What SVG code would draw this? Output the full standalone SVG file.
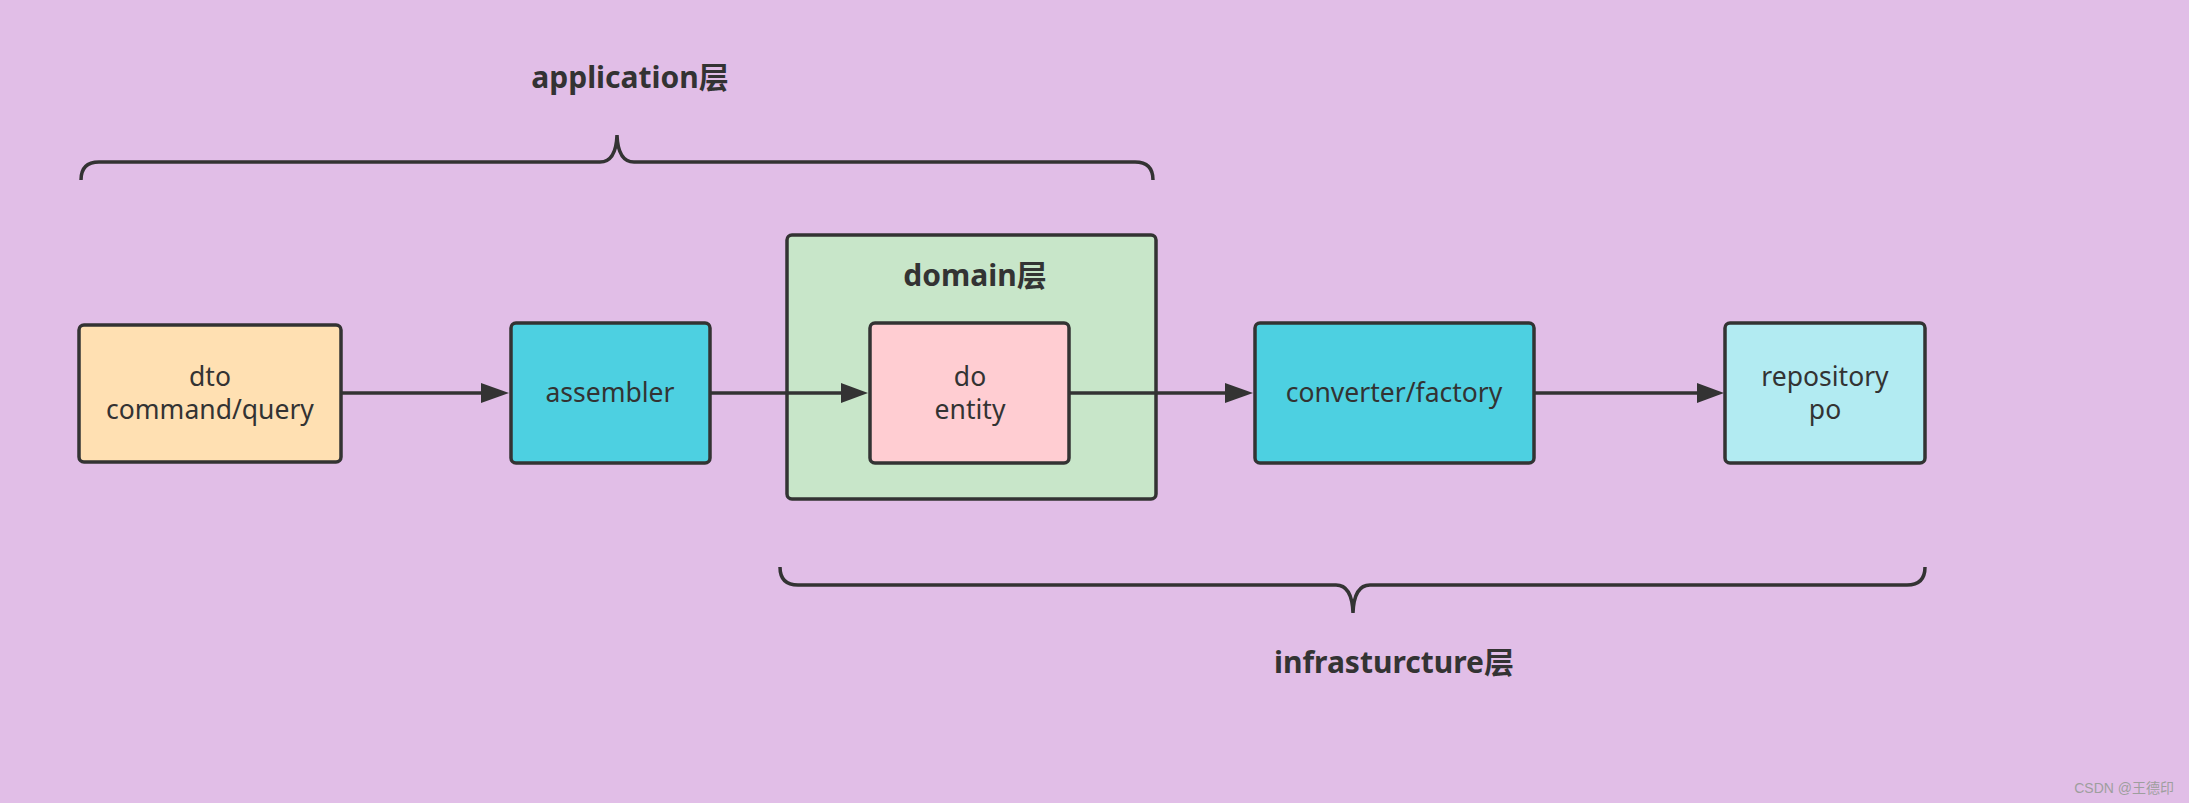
<svg xmlns="http://www.w3.org/2000/svg" width="2189" height="803" viewBox="0 0 2189 803">
<defs>
<style>
.box{stroke:#333;stroke-width:3.5}
.lbl{font-family:"Noto Sans","Noto Sans CJK SC",sans-serif;font-size:26.5px;fill:#333;text-anchor:middle}
.ttl{font-family:"Noto Sans","Noto Sans CJK SC",sans-serif;font-size:30px;font-weight:bold;fill:#333;text-anchor:middle}
.edge{stroke:#333;stroke-width:3.5;fill:none}
.brace{stroke:#333;stroke-width:3.5;fill:none}
</style>
</defs>
<rect width="2189" height="803" fill="#E1BEE7"/>
<g id="application-layer">
<text class="ttl" x="630" y="88">application层</text>
<path class="brace" d="M81,180 Q81,162 99,162 L600,162 Q616,162 617,135 Q618,162 634,162 L1135,162 Q1153,162 1153,180"/>
</g>
<g id="domain">
<rect class="box" x="787" y="235" width="369" height="264" rx="5" fill="#C8E6C9"/>
<text class="ttl" x="975" y="286">domain层</text>
</g>
<g id="dto">
<rect class="box" x="79" y="325" width="262" height="137" rx="5" fill="#FFE0B2"/>
<text class="lbl" x="210" y="386">dto</text>
<text class="lbl" x="210" y="419">command/query</text>
</g>
<g id="assembler">
<rect class="box" x="511" y="323" width="199" height="140" rx="5" fill="#4DD0E1"/>
<text class="lbl" x="610" y="402">assembler</text>
</g>
<g id="do-entity">
<rect class="box" x="870" y="323" width="199" height="140" rx="5" fill="#FFCDD2"/>
<text class="lbl" x="970" y="386">do</text>
<text class="lbl" x="970" y="419">entity</text>
</g>
<g id="converter">
<rect class="box" x="1255" y="323" width="279" height="140" rx="5" fill="#4DD0E1"/>
<text class="lbl" x="1394" y="402">converter/factory</text>
</g>
<g id="repository">
<rect class="box" x="1725" y="323" width="200" height="140" rx="5" fill="#B2EBF2"/>
<text class="lbl" x="1825" y="386">repository</text>
<text class="lbl" x="1825" y="419">po</text>
</g>
<g id="infrastructure-layer">
<path class="brace" d="M780,567 Q780,585 798,585 L1336,585 Q1352,585 1353,613 Q1354,585 1370,585 L1907,585 Q1925,585 1925,567"/>
<text class="ttl" x="1394" y="673">infrasturcture层</text>
</g>
<g id="connectors">
<line class="edge" x1="341" y1="393" x2="483" y2="393"/>
<path d="M481,383 L509,393 L481,403 Z" fill="#333"/>
<line class="edge" x1="710" y1="393" x2="843" y2="393"/>
<path d="M841,383 L868,393 L841,403 Z" fill="#333"/>
<line class="edge" x1="1069" y1="393" x2="1227" y2="393"/>
<path d="M1225,383 L1253,393 L1225,403 Z" fill="#333"/>
<line class="edge" x1="1534" y1="393" x2="1699" y2="393"/>
<path d="M1697,383 L1724,393 L1697,403 Z" fill="#333"/>
</g>
<text x="2174" y="793" text-anchor="end" font-family="Liberation Sans,'Noto Sans CJK SC',sans-serif" font-size="14" fill="#9e9e9e">CSDN @王德印</text>
</svg>
